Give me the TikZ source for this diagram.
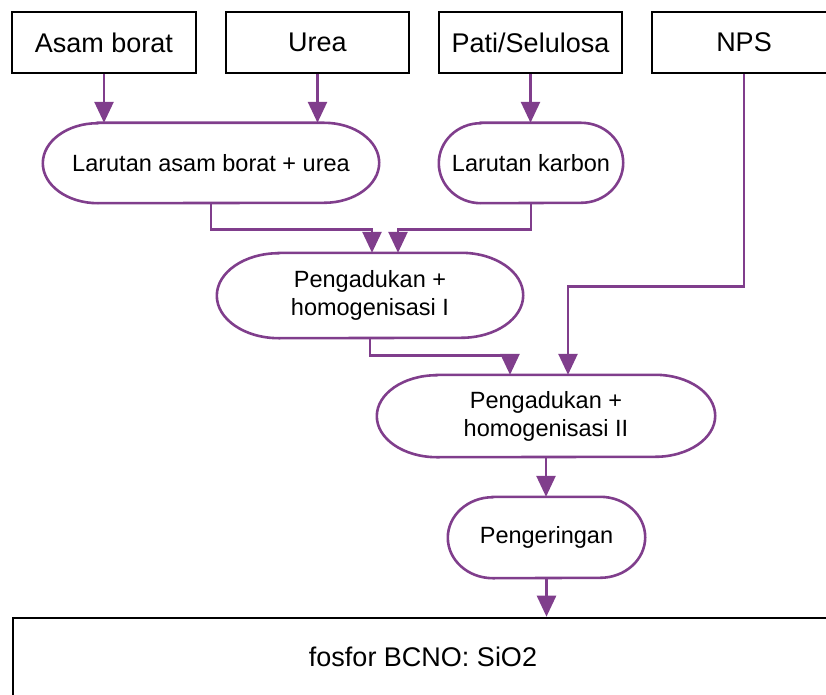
\documentclass[tikz,border=0pt]{standalone}
\usepackage{fontspec}
\setmainfont{Liberation Sans}
\usepackage{xcolor}
\usetikzlibrary{arrows.meta}

\definecolor{ungu}{RGB}{128,62,140}

\tikzset{
  bahan/.style={draw=black, line width=2.6pt, inner sep=0pt,
    minimum height=61pt, font=\fontsize{27}{32}\selectfont},
  proses/.style={inner sep=0pt, align=center,
    font=\fontsize{23.5}{28}\selectfont},
  garis/.style={draw=ungu, line width=2.6pt},
  alir/.style={garis, -{Triangle[length=21pt,width=19pt]}}
}

\begin{document}
\begin{tikzpicture}[x=1pt,y=1pt]
    \useasboundingbox (0,0) rectangle (826,-695);

    % Bahan awal
    \node[bahan, minimum width=184pt] (asam) at (104,-42.5) {Asam borat};
    \node[bahan, minimum width=183pt] (urea) at (317.5,-42.5) {Urea};
    \node[bahan, minimum width=183pt] (pati) at (530.5,-42.5) {Pati/Selulosa};
    \node[bahan, minimum width=184pt] (nps) at (744,-42.5) {NPS};

    % Tahap proses
    \node[proses, minimum width=336pt, minimum height=80pt] (larutanbu) at (211,-163) {Larutan asam borat + urea};
    \node[proses, minimum width=184pt, minimum height=80pt] (karbon) at (531,-163) {Larutan karbon};
    \node[proses, minimum width=306pt, minimum height=85pt] (aduksatu) at (370,-295.5) {Pengadukan +\\homogenisasi I};
    \node[proses, minimum width=338pt, minimum height=82pt] (adukdua) at (546,-416) {Pengadukan +\\homogenisasi II};
    \node[proses, minimum width=197pt, minimum height=81pt] (kering) at (546.5,-537.5) {Pengeringan};

    % Hasil
    \node[bahan, minimum width=820pt, minimum height=78pt] (fosfor) at (423,-657) {fosfor BCNO: SiO2};

    % Bentuk terminal
    \foreach \n/\rx/\ry in {larutanbu/55/40, karbon/42/40, aduksatu/62/42.5, adukdua/60/41, kering/45/40.5}
      \draw[garis] ([xshift=\rx pt]\n.north west) -- ([xshift=-\rx pt]\n.north east)
        arc[start angle=90, end angle=-90, x radius=\rx pt, y radius=\ry pt]
        -- ([xshift=\rx pt]\n.south west)
        arc[start angle=270, end angle=90, x radius=\rx pt, y radius=\ry pt] -- cycle;

    % Aliran
    \draw[alir] (asam.south) -- (asam.south |- larutanbu.north);
    \draw[alir] (urea.south) -- (urea.south |- larutanbu.north);
    \draw[alir] (pati.south) -- (pati.south |- karbon.north);
    \draw[alir] (larutanbu.south) -- ++(0,-26) -| ([xshift=2pt]aduksatu.north);
    \draw[alir] (karbon.south) -- ++(0,-26) -| ([xshift=28pt]aduksatu.north);
    \draw[alir] (aduksatu.south) -- ++(0,-17) -| ([xshift=-36pt]adukdua.north);
    \draw[alir] (nps.south) -- ++(0,-212) -| ([xshift=22pt]adukdua.north);
    \draw[alir] (adukdua.south) -- (adukdua.south |- kering.north);
    \draw[alir] (kering.south) -- (kering.south |- fosfor.north);
\end{tikzpicture}
\end{document}
